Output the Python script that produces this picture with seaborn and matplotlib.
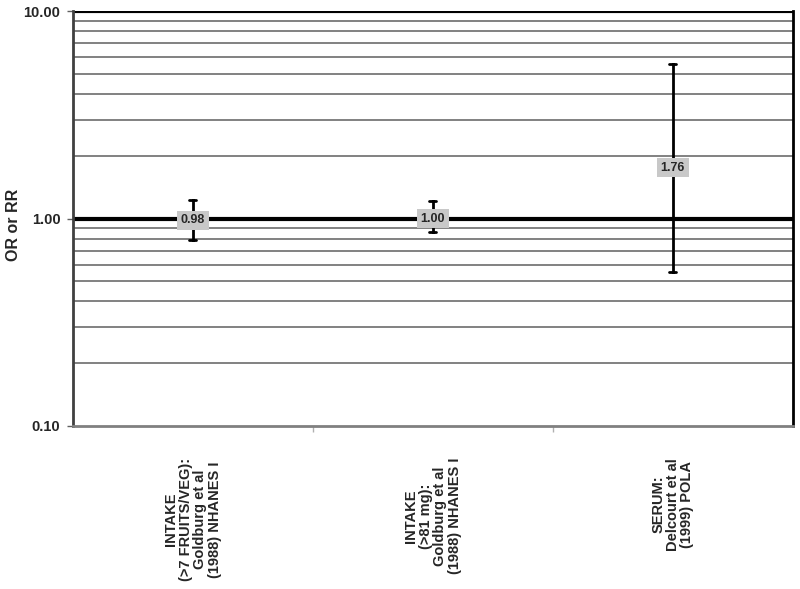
import numpy as np
import pandas as pd
import matplotlib
matplotlib.use('Agg')
import matplotlib.pyplot as plt
import matplotlib.ticker as mticker
import seaborn as sns

studies = [
    'INTAKE\n(>7 FRUITS/VEG):\nGoldburg et al\n(1988) NHANES I',
    'INTAKE\n(>81 mg):\nGoldburg et al\n(1988) NHANES I',
    'SERUM:\nDelcourt et al\n(1999) POLA',
]
estimates = [0.98, 1.00, 1.76]
lower = [0.79, 0.86, 0.55]
upper = [1.23, 1.21, 5.55]

sns.set_theme(style='white')
plt.rcParams['font.family'] = ['Liberation Sans', 'DejaVu Sans']
plt.rcParams['font.weight'] = 'bold'

# long form: low / estimate / high per study, median gives the estimate, full range gives the bar
rows = []
for s, lo, est, hi in zip(studies, lower, estimates, upper):
    for v in (lo, est, hi):
        rows.append({'study': s, 'value': v})
df = pd.DataFrame(rows)

fig, ax = plt.subplots(figsize=(8, 5.89), dpi=100)
fig.subplots_adjust(left=0.091, right=0.991, top=0.981, bottom=0.277)
ax.set_yscale('log')

sns.pointplot(data=df, x='study', y='value', estimator='median', errorbar=('pi', 100),
              capsize=0.03, color='black', linestyle='none', markersize=0,
              err_kws={'linewidth': 2}, ax=ax)

ax.set_ylim(0.1, 10)
ax.set_xlim(-0.5, len(studies) - 0.5)

# minor grid lines, thick reference lines at 1 and 10
ax.yaxis.set_minor_locator(mticker.LogLocator(base=10, subs=np.arange(2, 10)))
ax.yaxis.set_minor_formatter(mticker.NullFormatter())
ax.grid(False)
ax.grid(which='minor', axis='y', color='#777777', linewidth=1.3)
for yv in (1, 10):
    ax.axhline(yv, color='black', linewidth=3, zorder=1)

ax.set_yticks([0.1, 1, 10])
ax.set_yticklabels(['0.10', '1.00', '10.00'], fontsize=10.5, fontweight='bold')
ax.tick_params(axis='y', which='major', left=True, length=4, color='#606060', width=1, pad=5)
ax.tick_params(axis='y', which='minor', left=False)

ax.set_xticks(range(len(studies)))
ax.set_xticklabels(studies, rotation=90, fontsize=10.5, fontweight='bold',
                   ha='center', va='top', linespacing=1.05)
ax.set_xticks([0.5, 1.5], minor=True)
ax.tick_params(axis='x', which='major', bottom=False, pad=17)
ax.tick_params(axis='x', which='minor', bottom=True, length=4, color='#b0b0b0', width=1)

ax.set_xlabel('')
ax.set_ylabel('OR or RR', fontsize=11.5, fontweight='bold')
ax.yaxis.set_label_coords(-0.072, 0.485)

for side in ('left', 'right', 'bottom', 'top'):
    ax.spines[side].set_visible(True)
ax.spines['left'].set_color('#404040')
ax.spines['left'].set_linewidth(2)
ax.spines['bottom'].set_color('#808080')
ax.spines['bottom'].set_linewidth(2)
ax.spines['right'].set_color('black')
ax.spines['right'].set_linewidth(2)
ax.spines['top'].set_visible(False)

for i, est in enumerate(estimates):
    ax.text(i, est, f'{est:.2f}', ha='center', va='center', fontsize=9, fontweight='bold',
            bbox=dict(boxstyle='square,pad=0.3', facecolor='#c8c8c8', edgecolor='none'), zorder=5)

fig.savefig('out.png', dpi=100)
